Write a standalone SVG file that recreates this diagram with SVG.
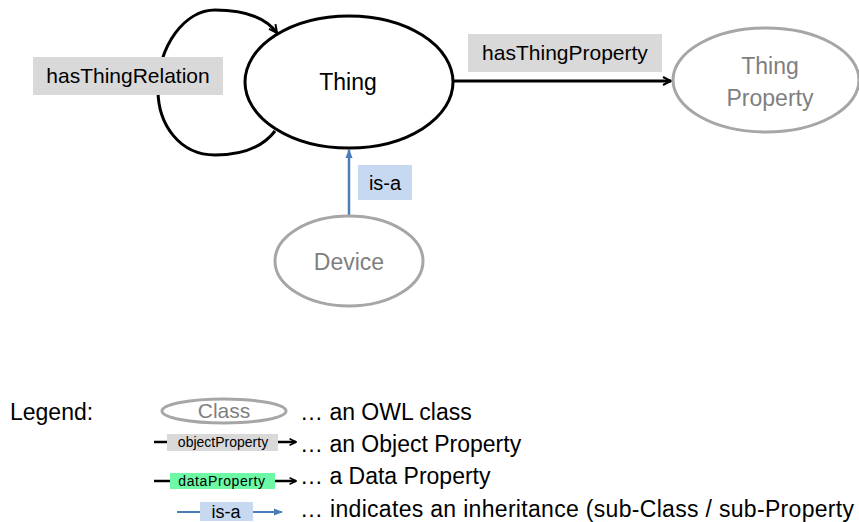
<svg xmlns="http://www.w3.org/2000/svg" width="859" height="522" viewBox="0 0 859 522">
<defs>
<style>
text{font-family:"Liberation Sans",Arial,sans-serif;}
.cls{fill:#fff;stroke:#000;stroke-width:3;}
.gcls{fill:#fff;stroke:#a6a6a6;stroke-width:3;}
.lbl{fill:#000;text-anchor:middle;}
.glbl{fill:#7f7f7f;text-anchor:middle;}
.obj{fill:#d9d9d9;}
.isa{fill:#c6d9f1;}
.edge{fill:none;stroke:#000;stroke-width:3;}
.bedge{fill:none;stroke:#4a7ebb;stroke-width:2.5;}
.leg{fill:#000;font-size:23px;}
</style>
<marker id="chev" viewBox="0 0 10 10" refX="9" refY="5" markerWidth="10" markerHeight="10" markerUnits="userSpaceOnUse" orient="auto">
<path d="M1 1 L9 5 L1 9" fill="none" stroke="#000" stroke-width="2"/>
</marker>
<marker id="chevs" viewBox="0 0 10 10" refX="9" refY="5" markerWidth="8" markerHeight="8" markerUnits="userSpaceOnUse" orient="auto">
<path d="M1 1 L9 5 L1 9" fill="none" stroke="#000" stroke-width="2"/>
</marker>
<marker id="tri" viewBox="0 0 10 10" refX="9" refY="5" markerWidth="9" markerHeight="9" markerUnits="userSpaceOnUse" orient="auto">
<path d="M0 1 L10 5 L0 9 Z" fill="#4a7ebb"/>
</marker>
</defs>

<g id="connectors">
<path class="edge" d="M275 131 C262 148 240 155 215 155 C180 155 158 125 158 90 C158 45 185 10 215 10 C245 10 266 18 277 33" marker-end="url(#chev)"/>
<line class="edge" x1="453" y1="81" x2="671" y2="81" marker-end="url(#chev)"/>
<line class="bedge" x1="349" y1="216" x2="349" y2="150" marker-end="url(#tri)"/>
</g>

<g id="label-hasThingRelation">
<rect class="obj" x="33" y="57" width="190" height="38"/>
<text class="lbl" x="128" y="83" font-size="21">hasThingRelation</text>
</g>
<g id="label-hasThingProperty">
<rect class="obj" x="468" y="34" width="194" height="38"/>
<text class="lbl" x="565" y="60" font-size="21">hasThingProperty</text>
</g>
<g id="label-isa">
<rect class="isa" x="358" y="165" width="54" height="35"/>
<text class="lbl" x="385" y="190" font-size="20">is-a</text>
</g>

<g id="node-Thing">
<ellipse class="cls" cx="349" cy="82" rx="104" ry="66"/>
<text class="lbl" x="348" y="90" font-size="23">Thing</text>
</g>
<g id="node-ThingProperty">
<ellipse class="gcls" cx="766" cy="80" rx="93" ry="52"/>
<text class="glbl" x="770" y="74" font-size="23">Thing</text>
<text class="glbl" x="770" y="106" font-size="23">Property</text>
</g>
<g id="node-Device">
<ellipse class="gcls" cx="349" cy="261" rx="74" ry="45"/>
<text class="glbl" x="349" y="270" font-size="23">Device</text>
</g>

<g id="legend">
<text class="leg" x="10" y="420">Legend:</text>
<ellipse class="gcls" cx="224" cy="411" rx="62" ry="12"/>
<text class="glbl" x="224" y="418" font-size="21">Class</text>
<text class="leg" x="300" y="420">… an OWL class</text>

<line x1="154" y1="442" x2="167" y2="442" stroke="#000" stroke-width="2.5"/>
<rect class="obj" x="167" y="434" width="111" height="17"/>
<text class="lbl" x="223" y="447" font-size="14">objectProperty</text>
<line x1="278" y1="442" x2="296" y2="442" stroke="#000" stroke-width="2.5" marker-end="url(#chevs)"/>
<text class="leg" x="300" y="452">… an Object Property</text>

<line x1="154" y1="481" x2="170" y2="481" stroke="#000" stroke-width="2.5"/>
<rect x="170" y="473" width="105" height="16" fill="#6cf9a6"/>
<text class="lbl" x="222" y="486" font-size="14" letter-spacing="0.6">dataProperty</text>
<line x1="275" y1="481" x2="296" y2="481" stroke="#000" stroke-width="2.5" marker-end="url(#chevs)"/>
<text class="leg" x="300" y="484">… a Data Property</text>

<line x1="177" y1="512" x2="200" y2="512" stroke="#4a7ebb" stroke-width="2"/>
<rect class="isa" x="200" y="502" width="53" height="19"/>
<text class="lbl" x="226" y="518" font-size="18">is-a</text>
<line x1="253" y1="512" x2="282" y2="512" stroke="#4a7ebb" stroke-width="2" marker-end="url(#tri)"/>
<text class="leg" x="300" y="517" textLength="554" lengthAdjust="spacing">… indicates an inheritance (sub-Class / sub-Property</text>
</g>
</svg>
